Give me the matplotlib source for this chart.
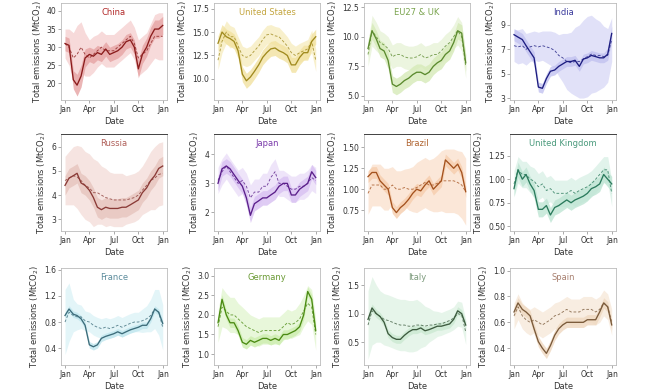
import matplotlib
matplotlib.use("Agg")
import matplotlib.pyplot as plt
import numpy as np

# day of year, 1st and 16th of each month + Dec 31
days = [0, 15, 31, 45, 60, 75, 91, 106, 121, 136, 152, 167, 182, 197,
        213, 228, 244, 259, 274, 289, 305, 320, 335, 350, 365]
month_ticks = [0, 91, 182, 274, 366]
month_labels = ["Jan", "Apr", "Jul", "Oct", "Jan"]

names = ["China", "United States", "EU27 & UK", "India",
         "Russia", "Japan", "Brazil", "United Kingdom",
         "France", "Germany", "Italy", "Spain"]

china_2020 = [31, 30.5, 21, 19.5, 22, 27, 28, 27.5, 28.5, 28, 29.5, 28, 28.5, 29, 30, 31.5, 32, 30, 24, 28, 30, 33, 35, 35, 36]
china_2019 = [31, 30, 27, 28, 30, 28, 27, 28, 29, 30, 29, 29, 29, 30, 31, 32, 33, 31, 27, 28, 29, 31, 33, 33, 33]
china_w20 = [2, 2, 2.5, 3, 3, 2.5, 2, 2, 2, 2, 2, 2, 2, 2, 2, 2, 2, 2, 2.5, 2.5, 2.5, 2.5, 2.5, 2.5, 2.5]
china_w19 = [4, 5, 7, 8, 7, 6, 5, 5, 4.5, 4.5, 4.5, 4.5, 4.5, 4.5, 4.5, 4.5, 4.5, 4.5, 5, 5, 5, 5.5, 6, 6.5, 6.5]

us_2020 = [13.8, 15.0, 14.5, 14.3, 14.0, 13.0, 10.5, 9.8, 10.2, 10.8, 11.5, 12.3, 12.8, 13.2, 13.3, 13.0, 12.8, 12.5, 11.5, 11.5, 12.3, 12.8, 12.8, 14.0, 14.5]
us_2019 = [12.0, 14.0, 15.0, 14.5, 14.5, 13.5, 12.5, 12.3, 12.5, 13.0, 13.5, 14.2, 14.7, 14.8, 14.6, 14.5, 14.0, 13.5, 12.8, 12.5, 12.8, 13.0, 13.2, 14.0, 12.0]
us_w20 = [0.8] * 25
us_w19 = [1.0, 1.2, 1.2, 1.2, 1.0, 1.0, 1.0, 1.0, 1.0, 1.0, 1.0, 1.0, 1.0, 1.0, 1.0, 1.0, 1.0, 1.0, 1.0, 1.0, 1.0, 1.0, 1.0, 1.2, 1.2]

eu_2020 = [9.0, 10.5, 9.8, 9.0, 8.8, 8.0, 6.0, 5.8, 6.0, 6.3, 6.5, 6.8, 7.0, 7.0, 6.8, 7.0, 7.5, 7.8, 8.0, 8.5, 8.8, 9.5, 10.5, 10.3, 7.8]
eu_2019 = [8.5, 10.5, 10.0, 9.5, 9.3, 9.0, 8.3, 8.5, 8.5, 8.3, 8.2, 8.2, 8.3, 8.5, 8.2, 8.3, 8.5, 8.5, 8.8, 9.2, 9.5, 10.0, 10.5, 10.0, 7.5]
eu_w20 = [0.7] * 25
eu_w19 = [1.0, 1.3, 1.2, 1.0, 1.0, 1.0, 1.0, 1.0, 1.0, 1.0, 1.0, 1.0, 1.0, 1.0, 1.0, 1.0, 1.0, 1.0, 1.0, 1.0, 1.0, 1.0, 1.2, 1.2, 1.0]

india_2020 = [8.2, 8.0, 7.8, 7.3, 6.8, 6.3, 3.9, 3.8, 4.6, 5.2, 5.3, 5.6, 5.8, 6.0, 6.0, 6.1, 5.6, 6.2, 6.3, 6.5, 6.4, 6.3, 6.3, 6.6, 8.3]
india_2019 = [7.3, 7.2, 7.3, 7.0, 7.2, 7.3, 7.2, 7.3, 7.2, 7.1, 6.9, 6.5, 6.3, 6.0, 5.9, 6.0, 6.0, 6.2, 6.4, 6.6, 6.5, 6.5, 6.4, 6.5, 7.8]
india_w20 = [0.5, 0.5, 0.5, 0.5, 0.5, 0.5, 0.4, 0.4, 0.4, 0.4, 0.4, 0.4, 0.4, 0.4, 0.4, 0.4, 0.4, 0.4, 0.4, 0.4, 0.4, 0.4, 0.4, 0.5, 0.6]
india_w19 = [1.3, 1.4, 1.4, 1.3, 1.2, 1.2, 1.2, 1.2, 1.3, 1.4, 1.5, 1.7, 2.0, 2.3, 2.5, 2.8, 3.0, 3.2, 3.3, 3.2, 3.0, 2.8, 2.5, 2.2, 1.8]

russia_2020 = [4.4, 4.7, 4.8, 4.9, 4.5, 4.4, 4.2, 3.9, 3.5, 3.4, 3.5, 3.45, 3.45, 3.45, 3.5, 3.5, 3.6, 3.7, 3.8, 4.1, 4.3, 4.6, 4.8, 5.1, 5.2]
russia_2019 = [4.6, 4.7, 4.8, 4.75, 4.6, 4.4, 4.3, 4.1, 4.1, 4.0, 3.9, 3.85, 3.8, 3.8, 3.8, 3.8, 3.85, 3.9, 4.0, 4.2, 4.4, 4.6, 4.7, 4.85, 4.9]
russia_w20 = [0.4] * 25
russia_w19 = [1.0, 1.1, 1.2, 1.3, 1.4, 1.4, 1.4, 1.4, 1.3, 1.2, 1.2, 1.1, 1.1, 1.1, 1.1, 1.0, 1.0, 1.0, 1.0, 1.0, 1.1, 1.2, 1.3, 1.3, 1.3]

japan_2020 = [3.0, 3.5, 3.6, 3.5, 3.3, 3.1, 2.9, 2.5, 1.9, 2.3, 2.4, 2.5, 2.5, 2.6, 2.7, 2.9, 3.0, 3.0, 2.6, 2.6, 2.8, 2.9, 3.0, 3.4, 3.2]
japan_2019 = [3.1, 3.4, 3.6, 3.4, 3.2, 3.0, 3.1, 2.9, 2.5, 2.7, 2.7, 2.9, 2.9, 3.2, 3.4, 3.0, 3.0, 2.9, 2.8, 2.8, 2.9, 2.9, 3.0, 3.2, 3.1]
japan_w20 = [0.25] * 25
japan_w19 = [0.45] * 25

brazil_2020 = [1.15, 1.2, 1.2, 1.1, 1.05, 1.0, 0.78, 0.72, 0.78, 0.82, 0.88, 0.95, 1.0, 0.98, 1.05, 1.1, 1.0, 1.05, 1.1, 1.35, 1.3, 1.25, 1.3, 1.2, 0.97]
brazil_2019 = [0.95, 1.05, 1.05, 1.05, 1.0, 1.0, 1.05, 1.0, 1.0, 1.02, 1.0, 1.0, 1.02, 1.05, 1.08, 1.05, 1.05, 1.07, 1.1, 1.1, 1.1, 1.1, 1.08, 1.05, 0.97]
brazil_w20 = [0.07] * 25
brazil_w19 = [0.25, 0.25, 0.25, 0.25, 0.25, 0.25, 0.22, 0.22, 0.22, 0.22, 0.25, 0.27, 0.3, 0.3, 0.3, 0.3, 0.32, 0.34, 0.36, 0.38, 0.38, 0.38, 0.38, 0.4, 0.4]

uk_2020 = [0.9, 1.1, 1.0, 1.05, 0.95, 0.88, 0.68, 0.68, 0.72, 0.62, 0.7, 0.72, 0.75, 0.78, 0.75, 0.78, 0.8, 0.82, 0.85, 0.9, 0.92, 0.95, 1.05, 1.0, 0.95]
uk_2019 = [0.95, 1.1, 1.05, 1.05, 1.0, 0.98, 0.92, 0.95, 0.88, 0.9, 0.85, 0.85, 0.85, 0.85, 0.88, 0.85, 0.88, 0.9, 0.92, 0.95, 1.0, 1.05, 1.1, 1.1, 0.85]
uk_w20 = [0.08] * 25
uk_w19 = [0.14] * 25

france_2020 = [0.9, 1.0, 0.92, 0.9, 0.85, 0.75, 0.45, 0.42, 0.45, 0.55, 0.58, 0.6, 0.62, 0.65, 0.62, 0.65, 0.68, 0.7, 0.72, 0.75, 0.75, 0.85, 1.0, 0.95, 0.78]
france_2019 = [0.8, 0.95, 0.9, 0.88, 0.88, 0.82, 0.8, 0.75, 0.72, 0.7, 0.72, 0.7, 0.72, 0.75, 0.72, 0.75, 0.78, 0.8, 0.8, 0.82, 0.85, 0.9, 1.0, 0.95, 0.72]
france_w20 = [0.05] * 25
france_w19 = [0.5, 0.45, 0.25, 0.2, 0.18, 0.15, 0.15, 0.15, 0.15, 0.15, 0.15, 0.15, 0.15, 0.15, 0.15, 0.15, 0.15, 0.15, 0.15, 0.18, 0.2, 0.25, 0.3, 0.35, 0.35]

germany_2020 = [1.8, 2.4, 2.0, 1.8, 1.8, 1.6, 1.3, 1.25, 1.35, 1.3, 1.35, 1.4, 1.4, 1.35, 1.4, 1.35, 1.5, 1.5, 1.55, 1.6, 1.7, 2.0, 2.6, 2.4, 1.6]
germany_2019 = [1.7, 2.2, 2.1, 2.0, 2.0, 1.9, 1.8, 1.7, 1.65, 1.6, 1.55, 1.6, 1.6, 1.6, 1.6, 1.6, 1.7, 1.8, 1.75, 1.8, 1.9, 2.1, 2.3, 2.2, 1.5]
germany_w20 = [0.12] * 25
germany_w19 = [0.4, 0.5, 0.45, 0.45, 0.45, 0.4, 0.4, 0.4, 0.35, 0.35, 0.35, 0.35, 0.35, 0.35, 0.35, 0.35, 0.35, 0.35, 0.35, 0.35, 0.4, 0.4, 0.45, 0.45, 0.4]

italy_2020 = [0.9, 1.1, 1.0, 0.95, 0.85, 0.65, 0.58, 0.55, 0.55, 0.62, 0.68, 0.72, 0.72, 0.75, 0.7, 0.72, 0.75, 0.78, 0.78, 0.8, 0.82, 0.9, 1.05, 1.0, 0.8]
italy_2019 = [0.8, 1.05, 1.0, 0.95, 0.9, 0.88, 0.85, 0.82, 0.8, 0.8, 0.78, 0.78, 0.8, 0.8, 0.78, 0.8, 0.8, 0.82, 0.82, 0.85, 0.88, 0.92, 1.0, 0.98, 0.68]
italy_w20 = [0.07] * 25
italy_w19 = [0.6, 0.6, 0.5, 0.45, 0.45, 0.45, 0.45, 0.45, 0.45, 0.45, 0.45, 0.45, 0.45, 0.4, 0.35, 0.3, 0.25, 0.22, 0.2, 0.2, 0.2, 0.2, 0.22, 0.22, 0.22]

spain_2020 = [0.68, 0.75, 0.7, 0.68, 0.65, 0.55, 0.45, 0.4, 0.36, 0.42, 0.5, 0.55, 0.58, 0.6, 0.6, 0.6, 0.6, 0.6, 0.62, 0.62, 0.62, 0.68, 0.75, 0.72, 0.58]
spain_2019 = [0.65, 0.72, 0.65, 0.62, 0.6, 0.62, 0.6, 0.58, 0.6, 0.62, 0.65, 0.66, 0.68, 0.7, 0.68, 0.68, 0.68, 0.7, 0.7, 0.7, 0.68, 0.7, 0.75, 0.72, 0.6]
spain_w20 = [0.04] * 25
spain_w19 = [0.1] * 25

series_2020 = [china_2020, us_2020, eu_2020, india_2020, russia_2020, japan_2020,
               brazil_2020, uk_2020, france_2020, germany_2020, italy_2020, spain_2020]
series_2019 = [china_2019, us_2019, eu_2019, india_2019, russia_2019, japan_2019,
               brazil_2019, uk_2019, france_2019, germany_2019, italy_2019, spain_2019]
width_2020 = [china_w20, us_w20, eu_w20, india_w20, russia_w20, japan_w20,
              brazil_w20, uk_w20, france_w20, germany_w20, italy_w20, spain_w20]
width_2019 = [china_w19, us_w19, eu_w19, india_w19, russia_w19, japan_w19,
              brazil_w19, uk_w19, france_w19, germany_w19, italy_w19, spain_w19]

yticks = [[20, 25, 30, 35, 40], [10.0, 12.5, 15.0, 17.5], [5.0, 7.5, 10.0, 12.5], [3, 5, 7, 9],
          [3, 4, 5, 6], [2, 3, 4], [0.75, 1.00, 1.25, 1.50], [0.50, 0.75, 1.00, 1.25],
          [0.4, 0.8, 1.2, 1.6], [1.0, 1.5, 2.0, 2.5, 3.0], [0.5, 1.0, 1.5], [0.4, 0.6, 0.8, 1.0]]
ytick_fmt = ["%d", "%.1f", "%.1f", "%d", "%d", "%d", "%.2f", "%.2f", "%.1f", "%.1f", "%.1f", "%.1f"]
ylims = [(15.4, 42.2), (7.75, 18.1), (4.66, 12.84), (2.84, 10.8),
         (2.52, 6.52), (1.36, 4.7), (0.50, 1.66), (0.45, 1.48),
         (0.14, 1.63), (0.72, 3.2), (0.1, 1.8), (0.27, 1.02)]

# line, inner band, outer band, title colour
line_colors = ["#8b1c1c", "#a08a1e", "#5b8a2e", "#1c1c80", "#8a3a36", "#5a1e8a",
               "#a4521e", "#2a7a5c", "#3c6c7a", "#4a8a12", "#3c5a3e", "#7a5a3a"]
inner_colors = ["#e6a3a3", "#f2e2a0", "#d6eab8", "#c2c2f0", "#e6c4bd", "#d8c0f2",
                "#f6cdad", "#bfe5d4", "#c0e6ee", "#cdeeaf", "#cbe9d2", "#efd8c0"]
outer_colors = ["#f7d6d6", "#f8efc7", "#eaf4dc", "#dedef8", "#f5e2de", "#ede2f9",
                "#fbe5d4", "#def2e9", "#e0f4f8", "#e6f7d6", "#e4f4e8", "#f8ebde"]
title_colors = ["#b22a2a", "#c4a640", "#7aa44e", "#3a3a9c", "#b0605a", "#7a3aaa",
                "#b06430", "#4a9a7c", "#5c8c9c", "#6a9a34", "#7c9a7c", "#a88070"]

fig = plt.figure(figsize=(6.5, 3.9), dpi=100)
lefts = [61, 214, 364, 510]
tops = [3, 134, 268]
w_px, h_px = 106, 97

for i, name in enumerate(names):
    r, c = divmod(i, 4)
    ax = fig.add_axes([lefts[c] / 650, 1 - (tops[r] + h_px) / 390, w_px / 650, h_px / 390])
    y20 = np.array(series_2020[i])
    y19 = np.array(series_2019[i])
    w20 = np.array(width_2020[i])
    w19 = np.array(width_2019[i])
    ax.fill_between(days, y19 - w19, y19 + w19, color=outer_colors[i], lw=0, alpha=0.9)
    ax.fill_between(days, y20 - w20, y20 + w20, color=inner_colors[i], lw=0, alpha=0.8)
    ax.plot(days, y19, color=line_colors[i], lw=0.65, dashes=(3, 2), alpha=0.8)
    ax.plot(days, y20, color=line_colors[i], lw=0.95)
    ax.set_xlim(-15, 381)
    ax.set_ylim(*ylims[i])
    ax.set_xticks(month_ticks)
    ax.set_xticklabels(month_labels)
    ax.set_yticks(yticks[i])
    ax.set_yticklabels([ytick_fmt[i] % v for v in yticks[i]])
    ax.tick_params(labelsize=5.5, length=2, width=0.5, color="#888888",
                   labelcolor="#333333", pad=1.5)
    for sp in ax.spines.values():
        sp.set_color("#bbbbbb")
        sp.set_linewidth(0.6)
    if r == 1:
        ax.spines["top"].set_color("#222222")
    ax.set_xlabel("Date", fontsize=6, labelpad=2, color="#333333")
    ax.set_ylabel("Total emissions (MtCO$_2$)", fontsize=6, labelpad=2, color="#333333")
    ax.text(0.5, 0.9, name, transform=ax.transAxes, ha="center", va="center",
            fontsize=6, color=title_colors[i])

fig.savefig("out.png", dpi=100)
